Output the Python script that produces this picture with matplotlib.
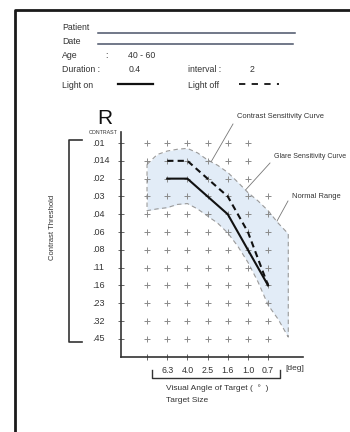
import numpy as np
import matplotlib
matplotlib.use("Agg")
import matplotlib.pyplot as plt

plt.rcParams['font.family'] = ['Liberation Sans', 'DejaVu Sans']

# target size columns (first column is unlabelled), contrast rows
angle_labels = ["", "6.3", "4.0", "2.5", "1.6", "1.0", "0.7"]
contrast_labels = [".01", ".014", ".02", ".03", ".04", ".06",
                   ".08", ".11", ".16", ".23", ".32", ".45"]

# light on: contrast sensitivity curve
contrast_x = ["6.3", "4.0", "1.6", "0.7"]
contrast_y = [".02", ".02", ".04", ".16"]

# light off: glare sensitivity curve
glare_x = ["6.3", "4.0", "2.5", "1.6", "1.0", "0.7"]
glare_y = [".014", ".014", ".02", ".03", ".06", ".16"]

# normal range band (column position, upper / lower row position)
norm_pos = [0, 0.5, 1, 1.5, 2, 2.5, 3, 3.5, 4, 4.5, 5, 5.5, 6, 6.5, 7]
norm_upper = [1.2, 0.65, 0.45, 0.35, 0.3, 0.55, 0.95, 1.25, 1.65,
              2.2, 2.78, 3.25, 3.8, 4.5, 5.1]
norm_lower = [3.8, 3.7, 3.63, 3.45, 3.4, 3.7, 4.1, 4.5, 5.05,
              5.8, 6.7, 7.8, 9.1, 9.9, 10.9]

# grid points left out in the top right corner (column, row)
grid_skip = [(6, 0), (6, 1), (6, 2)]

col = {lab: i for i, lab in enumerate(angle_labels) if lab}
row = {lab: i for i, lab in enumerate(contrast_labels)}

W, H = 350, 432
fig = plt.figure(figsize=(W / 100, H / 100), dpi=100)
fig.patch.set_facecolor("white")

# page overlay in pixel units for header, brackets and notes
ov = fig.add_axes([0, 0, 1, 1])
ov.set_xlim(0, W)
ov.set_ylim(H, 0)
ov.axis("off")

ax = fig.add_axes([121 / W, 1 - 357 / H, (303 - 121) / W, (357 - 132) / H])
ax.patch.set_visible(False)
ax.set_xlim(-1.29, 7.73)
ax.set_ylim(12.02, -0.62)

# normal range
ax.fill_between(norm_pos, norm_upper, norm_lower, color="#e2ecf7", lw=0, zorder=1)
edge_x = norm_pos + norm_pos[::-1] + [norm_pos[0]]
edge_y = norm_upper + norm_lower[::-1] + [norm_upper[0]]
ax.plot(edge_x, edge_y, color="#9a9a9a", lw=0.8, dashes=(4, 3), zorder=2)

# grid of crosses
for c in range(len(angle_labels)):
    for r in range(len(contrast_labels)):
        if (c, r) in grid_skip:
            continue
        ax.plot(c, r, marker="+", ms=4, mew=0.7, color="#8a8a8a", zorder=3)

ax.plot([col[x] for x in glare_x], [row[y] for y in glare_y],
        color="#111111", lw=1.5, dashes=(3, 2), zorder=4)
ax.plot([col[x] for x in contrast_x], [row[y] for y in contrast_y],
        color="#111111", lw=1.5, zorder=5)

for s in ["top", "right"]:
    ax.spines[s].set_visible(False)
for s in ["left", "bottom"]:
    ax.spines[s].set_color("#333333")
    ax.spines[s].set_linewidth(1.2)

ax.set_yticks(range(len(contrast_labels)))
ax.set_yticklabels([])
ax.set_xticks(range(len(angle_labels)))
ax.set_xticklabels(angle_labels, fontsize=6.3, color="#333333")
ax.tick_params(axis="both", direction="inout", length=5, width=0.7,
               color="#666666", pad=4)

# contrast labels, left aligned
for i, lab in enumerate(contrast_labels):
    ax.text(-1.29 - 29 / 20.17, i, lab, fontsize=6.5, color="#333333",
            ha="left", va="center")


def to_page(c, r):
    return ov.transData.inverted().transform(ax.transData.transform((c, r)))


# header
txt = dict(fontsize=6.3, color="#333333", va="center", ha="left")
ov.text(62, 28, "Patient", **txt)
ov.plot([98, 295], [33, 33], color="#4a5468", lw=1.1)
ov.text(62, 42, "Date", **txt)
ov.plot([98, 293], [44, 44], color="#4a5468", lw=1.1)
ov.text(62, 56, "Age", **txt)
ov.text(105, 56, ":", **txt)
ov.text(128, 56, "40 - 60", **txt)
ov.text(62, 70, "Duration :", **txt)
ov.text(129, 70, "0.4", **txt)
ov.text(188, 70, "interval :", **txt)
ov.text(250, 70, "2", **txt)
ov.text(62, 85, "Light on", **txt)
ov.plot([118, 153], [83.5, 83.5], color="#111111", lw=1.6)
ov.text(188, 85, "Light off", **txt)
ov.plot([239, 279], [84, 84], color="#111111", lw=1.3, dashes=(3.5, 3.5))

# page frame
ov.plot([15, 15, W], [H, 10, 10], color="#1a1a1a", lw=2, solid_capstyle="butt")

# axis titles
ov.text(105, 118, "R", fontsize=15, color="#111111", ha="center", va="center")
ov.text(103, 132, "CONTRAST", fontsize=3.8, color="#333333", ha="center",
        va="center")
ov.plot([82, 69, 69, 82], [140, 140, 342, 342], color="#333333", lw=1.2)
ov.text(53, 227, "Contrast Threshold", fontsize=5.5, color="#333333",
        rotation=90, ha="center", va="center")

ov.plot([152, 152, 280, 280], [370, 378, 378, 370], color="#333333", lw=1)
ov.text(285, 369, "[deg]", **dict(txt, fontsize=6))
ov.text(166, 388, "Visual Angle of Target (  \u00b0  )", **dict(txt, fontsize=6))
ov.text(166, 400, "Target Size", **dict(txt, fontsize=6))

# callouts
notes = [
    ("Contrast Sensitivity Curve", (237, 116), (233, 124), (2.78, 1.83), 5.4),
    ("Glare Sensitivity Curve", (274, 157), (270, 163), (3.87, 3.9), 5.0),
    ("Normal Range", (292, 197), (288, 201), (5.85, 5.6), 5.4),
]
for label, (tx, ty), (lx, ly), (c, r), fs in notes:
    ov.text(tx, ty, label, fontsize=fs, color="#333333", ha="left",
            va="center")
    px, py = to_page(c, r)
    ov.plot([lx, px], [ly, py], color="#777777", lw=0.6)

fig.savefig("out.png", dpi=100)
